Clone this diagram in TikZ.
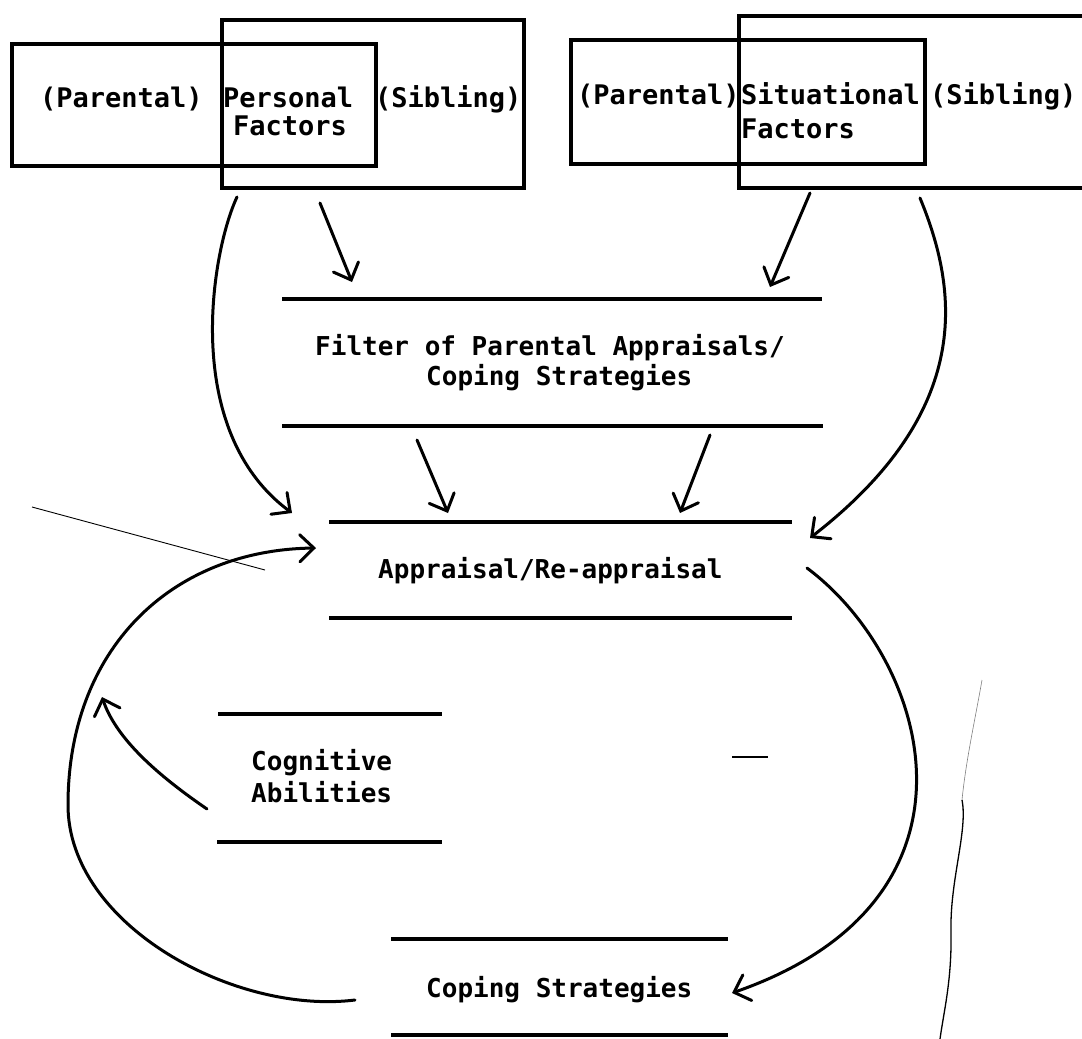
\documentclass[tikz,border=0pt]{standalone}
\usepackage{fontspec}
\newfontfamily\typefont{DejaVu Sans Mono}
\usetikzlibrary{arrows.meta}
\begin{document}
\begin{tikzpicture}[x=1pt,y=-1pt,
  box/.style={line width=3.4pt},
  bar/.style={line width=3.4pt},
  arr/.style={line width=3pt,line cap=round,-{Straight Barb[length=14pt,width=27pt,line cap=round]}},
  stray/.style={line width=0.9pt},
  toptxt/.style={font=\typefont\bfseries\fontsize{27}{32}\selectfont,inner sep=0pt,anchor=base west},
  txt/.style={font=\typefont\bfseries\fontsize{26}{31}\selectfont,inner sep=0pt,anchor=base west}]
\clip (0,0) rectangle (1082,1039);
\fill[white] (0,0) rectangle (1082,1039);

% ---- top boxes
\coordinate (pA1) at (12,44);   \coordinate (pA2) at (376,166);
\coordinate (pB1) at (222,20);  \coordinate (pB2) at (524,188);
\coordinate (sA1) at (571,40);  \coordinate (sA2) at (925,164);
\coordinate (sB1) at (739,16);  \coordinate (sB2) at (1100,188);
\draw[box] (pA1) rectangle (pA2);
\draw[box] (pB1) rectangle (pB2);
\draw[box] (sA1) rectangle (sA2);
\draw[box] (sB1) rectangle (sB2);

\node[toptxt] (pPar) at (40,107) {(Parental)};
\node[toptxt] (pPer) at (223,107) {Personal};
\node[toptxt] (pFac) at (233,135) {Factors};
\node[toptxt] (pSib) at (375,107) {(Sibling)};
\node[toptxt] (sPar) at (577,104) {(Parental)};
\node[toptxt] (sSit) at (741,104) {Situational};
\node[toptxt] (sFac) at (741,138) {Factors};
\node[toptxt] (sSib) at (930,104) {(Sibling)};

% ---- filter
\coordinate (f1a) at (282,299); \coordinate (f1b) at (822,299);
\coordinate (f2a) at (282,426); \coordinate (f2b) at (823,426);
\draw[bar] (f1a) -- (f1b);
\draw[bar] (f2a) -- (f2b);
\node[txt] (filt1) at (315,355) {Filter of Parental Appraisals/};
\node[txt] (filt2) at (426,385) {Coping Strategies};

% ---- appraisal
\coordinate (a1a) at (329,522); \coordinate (a1b) at (792,522);
\coordinate (a2a) at (329,618); \coordinate (a2b) at (792,618);
\draw[bar] (a1a) -- (a1b);
\draw[bar] (a2a) -- (a2b);
\node[txt] (appr) at (378,578) {Appraisal/Re-appraisal};

% ---- cognitive
\coordinate (c1a) at (218,714); \coordinate (c1b) at (442,714);
\coordinate (c2a) at (217,842); \coordinate (c2b) at (442,842);
\draw[bar] (c1a) -- (c1b);
\draw[bar] (c2a) -- (c2b);
\node[txt] (cog1) at (251,770) {Cognitive};
\node[txt] (cog2) at (251,802) {Abilities};

% ---- coping
\coordinate (k1a) at (391,939); \coordinate (k1b) at (728,939);
\coordinate (k2a) at (391,1035); \coordinate (k2b) at (728,1035);
\draw[bar] (k1a) -- (k1b);
\draw[bar] (k2a) -- (k2b);
\node[txt] (cop) at (426,997) {Coping Strategies};

% ---- connector end points
\coordinate (persL) at (237,197);
\coordinate (persR) at (320,203);
\coordinate (sitL) at (810,193);
\coordinate (sitR) at (920,198);
\coordinate (filtInL) at (352,282);
\coordinate (filtInR) at (770,287);
\coordinate (filtOutL) at (417,440);
\coordinate (filtOutR) at (710,435);
\coordinate (apprInL) at (292,513);
\coordinate (apprInML) at (448,513);
\coordinate (apprInMR) at (680,513);
\coordinate (apprInR) at (810,538);
\coordinate (apprInLow) at (316,548);
\coordinate (apprOut) at (807,568);
\coordinate (copIn) at (732,993);
\coordinate (copOut) at (355,1000);
\coordinate (loopLeft) at (68,805);
\coordinate (cogOut) at (207,809);
\coordinate (cogTip) at (102,697);

% ---- connectors
\draw[arr] (persL) .. controls (212,250) and (180,430) .. (apprInL);
\draw[arr] (persR) -- (filtInL);
\draw[arr] (sitL) -- (filtInR);
\draw[arr] (sitR) .. controls (958,290) and (975,410) .. (apprInR);
\draw[arr] (filtOutL) -- (apprInML);
\draw[arr] (filtOutR) -- (apprInMR);
\draw[arr] (apprOut) .. controls (930,660) and (1000,900) .. (copIn);
\draw[arr] (copOut) .. controls (235,1015) and (68,925) .. (loopLeft)
                    .. controls (68,650) and (170,550) .. (apprInLow);
\draw[arr] (cogOut) .. controls (150,770) and (115,735) .. (cogTip);

% ---- scan marks
\coordinate (s1) at (32,507); \coordinate (s2) at (265,570);
\draw[stray] (s1) -- (s2);
\coordinate (w1) at (982,680); \coordinate (w2) at (962,800);
\coordinate (w3) at (940,1039);
\draw[line width=0.6pt,gray] (w1) .. controls (975,720) and (966,760) .. (w2);
\draw[line width=1.3pt] (w2) .. controls (968,830) and (950,880) .. (951,930)
      .. controls (952,980) and (944,1010) .. (w3);
\coordinate (d1) at (732,757); \coordinate (d2) at (768,757);
\draw[line width=1.8pt] (d1) -- (d2);
\end{tikzpicture}
\end{document}
